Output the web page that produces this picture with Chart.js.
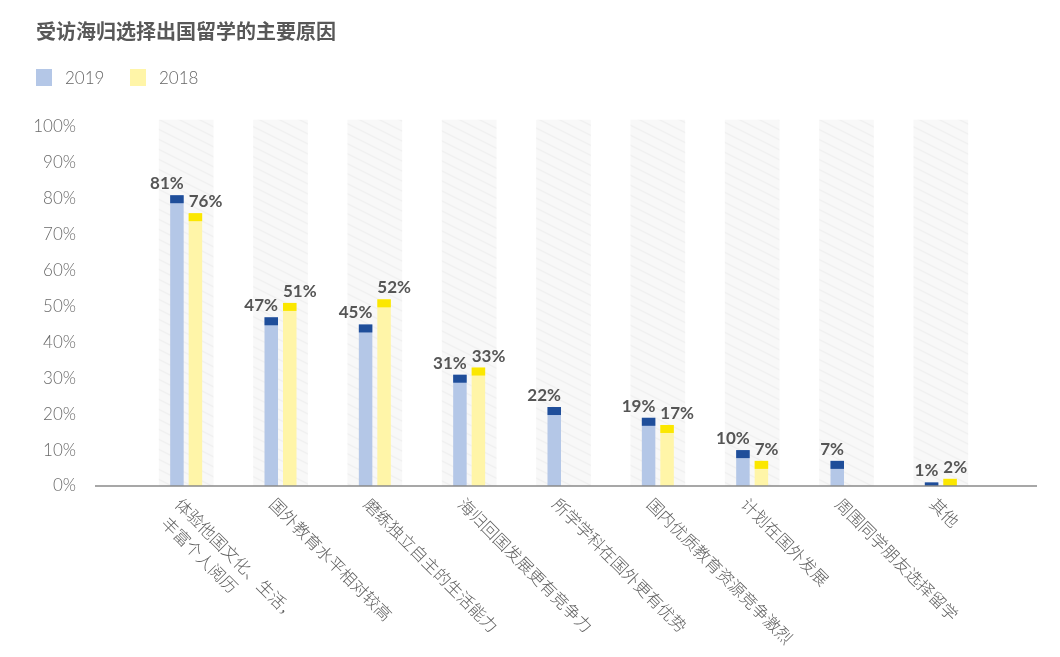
<!DOCTYPE html>
<html>
<head>
<meta charset="utf-8">
<script src="https://cdn.jsdelivr.net/npm/chart.js@4/dist/chart.umd.min.js"></script>
<style>
  html, body { margin: 0; padding: 0; background: #ffffff; }
  #wrap { position: relative; width: 1060px; height: 657px; overflow: hidden; }
  #chartBox { position: absolute; left: 0; top: 0; width: 1060px; height: 657px; }
  #title { position: absolute; left: 36px; top: 18px; font-family: "Noto Sans CJK SC", sans-serif; font-size: 20px; font-weight: 700; color: #585858; line-height: 26px; white-space: nowrap; }
  .lg { position: absolute; top: 66px; height: 22px; display: flex; align-items: center; font-family: Lato, "Noto Sans", sans-serif; font-size: 17px; font-weight: 300; color: #666666; }
  .lg i { display: inline-block; width: 16px; height: 17px; margin-right: 13px; }
</style>
</head>
<body>
<div id="wrap">
  <div id="chartBox"><canvas id="c"></canvas></div>
  <div id="title">受访海归选择出国留学的主要原因</div>
  <div class="lg" style="left:36px"><i style="background:#b4c7e7"></i>2019</div>
  <div class="lg" style="left:130px"><i style="background:#fff5a8"></i>2018</div>
</div>
<script>
// ---- data ----
const categories = [
  ["体验他国文化、生活，", "丰富个人阅历"],
  "国外教育水平相对较高",
  "磨练独立自主的生活能力",
  "海归回国发展更有竞争力",
  "所学学科在国外更有优势",
  "国内优质教育资源竞争激烈",
  "计划在国外发展",
  "周围同学朋友选择留学",
  "其他"
];
const values2019 = [81, 47, 45, 31, 22, 19, 10, 7, 1];
const values2018 = [76, 51, 52, 33, null, 17, 7, null, 2];
const backdrop = [102, 102, 102, 102, 102, 102, 102, 102, 102];
const yTicks = [0, 10, 20, 30, 40, 50, 60, 70, 80, 90, 100];
const seriesNames = ["2019", "2018"];

// ---- styling ----
const lightColors = ["#b4c7e7", "#fff5a8"];
const capColors = ["#1f4e9a", "#fbe700"];

function makeHatch() {
  const p = document.createElement('canvas');
  p.width = 20; p.height = 10;
  const g = p.getContext('2d');
  g.fillStyle = '#f8f8f8';
  g.fillRect(0, 0, 20, 10);
  g.strokeStyle = '#f0f0f0';
  g.lineWidth = 1.4;
  for (let k = -1; k <= 1; k++) {
    g.beginPath();
    g.moveTo(-20, -10 + k * 10);
    g.lineTo(40, 20 + k * 10);
    g.stroke();
  }
  return g.createPattern(p, 'repeat');
}

const capPlugin = {
  id: 'caps',
  afterDatasetsDraw(chart) {
    const ctx = chart.ctx;
    [0, 1].forEach(di => {
      const meta = chart.getDatasetMeta(di);
      meta.data.forEach((el, i) => {
        const v = chart.data.datasets[di].data[i];
        if (v === null || v === undefined) return;
        const {x, y, base, width} = el.getProps(['x', 'y', 'base', 'width'], true);
        const h = Math.min(8, base - y);
        ctx.save();
        ctx.fillStyle = capColors[di];
        ctx.fillRect(x - width / 2, y, width, h);
        ctx.restore();
      });
    });
  }
};

const labelPlugin = {
  id: 'valueLabels',
  afterDatasetsDraw(chart) {
    const ctx = chart.ctx;
    ctx.save();
    ctx.font = 'bold 17px Lato, "Open Sans", sans-serif';
    ctx.fillStyle = '#555555';
    ctx.textBaseline = 'alphabetic';
    [0, 1].forEach(di => {
      const meta = chart.getDatasetMeta(di);
      meta.data.forEach((el, i) => {
        const v = chart.data.datasets[di].data[i];
        if (v === null || v === undefined) return;
        const {x, y, width} = el.getProps(['x', 'y', 'width'], true);
        if (di === 0) {
          ctx.textAlign = 'right';
          ctx.fillText(v + '%', x + width / 2, y - 6);
        } else {
          ctx.textAlign = 'left';
          ctx.fillText(v + '%', x - width / 2, y - 6);
        }
      });
    });
    ctx.restore();
  }
};

const axisPlugin = {
  id: 'axisLabels',
  afterDraw(chart) {
    const ctx = chart.ctx;
    const xs = chart.scales.x;
    const ys = chart.scales.y;
    const y0 = ys.getPixelForValue(0);
    const area = chart.chartArea;
    // baseline
    ctx.save();
    ctx.strokeStyle = '#8a8a8a';
    ctx.lineWidth = 1.5;
    ctx.beginPath();
    ctx.moveTo(area.left - 44, y0);
    ctx.lineTo(area.right + 49, y0);
    ctx.stroke();
    ctx.restore();
    // rotated category labels
    ctx.save();
    ctx.font = '300 16.5px "Noto Sans CJK SC", sans-serif';
    ctx.fillStyle = '#606060';
    ctx.textAlign = 'left';
    ctx.textBaseline = 'middle';
    categories.forEach((lab, i) => {
      const px = xs.getPixelForTick(i);
      const lines = Array.isArray(lab) ? lab : [lab];
      ctx.save();
      ctx.translate(px - 8, y0 + 15);
      ctx.rotate(Math.PI / 4);
      lines.forEach((ln, k) => ctx.fillText(ln, k * 4, k * 23));
      ctx.restore();
    });
    ctx.restore();
  }
};

new Chart(document.getElementById('c'), {
  type: 'bar',
  data: {
    labels: categories,
    datasets: [
      { label: seriesNames[0], data: values2019, backgroundColor: lightColors[0], order: 1,
        categoryPercentage: 0.392, barPercentage: 0.73 },
      { label: seriesNames[1], data: values2018, backgroundColor: lightColors[1], order: 1,
        categoryPercentage: 0.392, barPercentage: 0.73 },
      { label: 'bg', data: backdrop, backgroundColor: makeHatch(), order: 5, grouped: false,
        categoryPercentage: 1, barPercentage: 0.58, clip: false }
    ]
  },
  options: {
    responsive: true,
    maintainAspectRatio: false,
    animation: false,
    devicePixelRatio: 1,
    layout: { padding: { left: 0, right: 72, top: 127, bottom: 171 } },
    plugins: {
      legend: { display: false },
      title: { display: false },
      tooltip: { enabled: false }
    },
    scales: {
      x: {
        grid: { display: false, drawTicks: false },
        border: { display: false },
        ticks: { display: false },
        afterFit(s) { s.height = 0; }
      },
      y: {
        min: 0, max: 100,
        afterFit(s) { s.width = 139; },
        afterBuildTicks(s) { s.ticks = yTicks.map(v => ({ value: v })); },
        grid: { display: false, drawTicks: false },
        border: { display: false },
        ticks: {
          padding: 63,
          color: '#6a6a6a',
          font: { family: 'Lato, "Noto Sans", sans-serif', size: 17, weight: '300' },
          callback: v => v + '%'
        }
      }
    }
  },
  plugins: [capPlugin, labelPlugin, axisPlugin]
});
</script>
</body>
</html>
